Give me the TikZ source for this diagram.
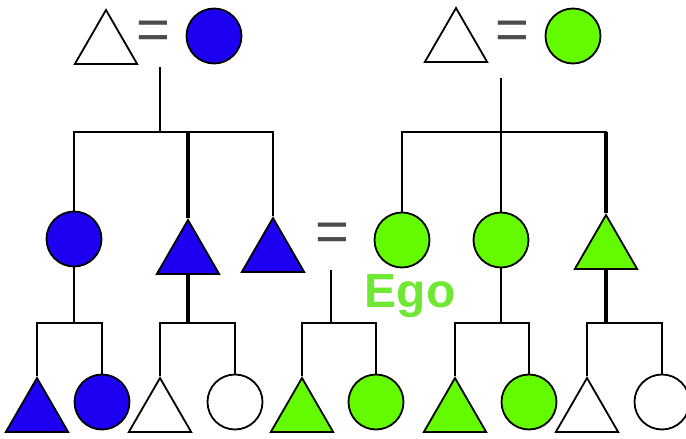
\documentclass[tikz,border=0pt]{standalone}
\usepackage{fontspec}
\setmainfont{Liberation Sans}
\usetikzlibrary{shapes.geometric}
\definecolor{clanblue}{RGB}{30,0,240}
\definecolor{clangreen}{RGB}{100,250,0}
\definecolor{egogreen}{RGB}{110,232,50}

\begin{document}
\begin{tikzpicture}[x=1pt,y=-1pt,line width=1.8pt,
  male/.style={draw=black,regular polygon,regular polygon sides=3,minimum size=72pt,inner sep=0pt},
  female/.style={draw=black,circle,minimum size=55pt,inner sep=0pt},
  wed/.style={text=black!70,inner sep=0pt,font=\fontsize{58}{58}\selectfont},
  kin/.style={line width=1.8pt},
  heir/.style={line width=4.5pt}]
\useasboundingbox (0,0) rectangle (686,439);

% first generation
\node[male,fill=white] (tA) at (106,46) {};
\node[wed] (eqA) at (153,35) {=};
\node[female,fill=clanblue] (cA) at (214,36) {};
\node[male,fill=white] (tB) at (456,44) {};
\node[wed] (eqB) at (512,35) {=};
\node[female,fill=clangreen] (cB) at (573,36) {};

% second generation
\node[female,fill=clanblue] (cA1) at (74,239) {};
\node[male,fill=clanblue] (tA2) at (188,256) {};
\node[male,fill=clanblue] (tA3) at (273,254) {};
\node[wed] (eqC) at (332,237) {=};
\node[female,fill=clangreen] (cB1) at (402,240) {};
\node[female,fill=clangreen] (cB2) at (501,240) {};
\node[male,fill=clangreen] (tB3) at (606,251) {};
\node[text=egogreen,font=\bfseries\fontsize{48}{48}\selectfont] (ego) at (410,296) {Ego};

% third generation
\node[male,fill=clanblue] (tAa) at (37,414) {};
\node[female,fill=clanblue] (cAa) at (102,402) {};
\node[male,fill=white] (tAb) at (160,414) {};
\node[female,fill=white] (cAb) at (235,402) {};
\node[male,fill=clangreen] (tC) at (302,414) {};
\node[female,fill=clangreen] (cC) at (376,402) {};
\node[male,fill=clangreen] (tBd) at (455,414) {};
\node[female,fill=clangreen] (cBd) at (529,402) {};
\node[male,fill=white] (tBe) at (587,414) {};
\node[female,fill=white] (cBe) at (662,402) {};

% descent lines
\coordinate (topA) at (160,67);
\coordinate (barA) at (160,132);
\coordinate (topB) at (501,78);
\coordinate (barB) at (501,132);
\draw[kin] (topA) -- (barA);
\draw[kin] (cA1.north) |- (barA) -| (tA3.corner 1);
\draw[heir] (barA -| tA2.corner 1) -- (tA2.corner 1);
\draw[kin] (topB) -- (barB) -- (cB2.north);
\draw[kin] (cB1.north) |- (barB) -| (tB3.corner 1);
\draw[heir] (barB -| tB3.corner 1) -- (tB3.corner 1);

\coordinate (barAa) at (74,323);
\coordinate (barAb) at (188,323);
\coordinate (topC) at (331,270);
\coordinate (barC) at (331,323);
\coordinate (barBd) at (501,323);
\coordinate (barBe) at (606,323);
\draw[kin] (cA1.south) -- (barAa);
\draw[kin] (tAa.corner 1) |- (barAa) -| (cAa.north);
\draw[heir] (tA2.side 2) -- (barAb);
\draw[kin] (tAb.corner 1) |- (barAb) -| (cAb.north);
\draw[kin] (topC) -- (barC);
\draw[kin] (tC.corner 1) |- (barC) -| (cC.north);
\draw[kin] (cB2.south) -- (barBd);
\draw[kin] (tBd.corner 1) |- (barBd) -| (cBd.north);
\draw[heir] (tB3.side 2) -- (barBe);
\draw[kin] (tBe.corner 1) |- (barBe) -| (cBe.north);
\end{tikzpicture}
\end{document}
